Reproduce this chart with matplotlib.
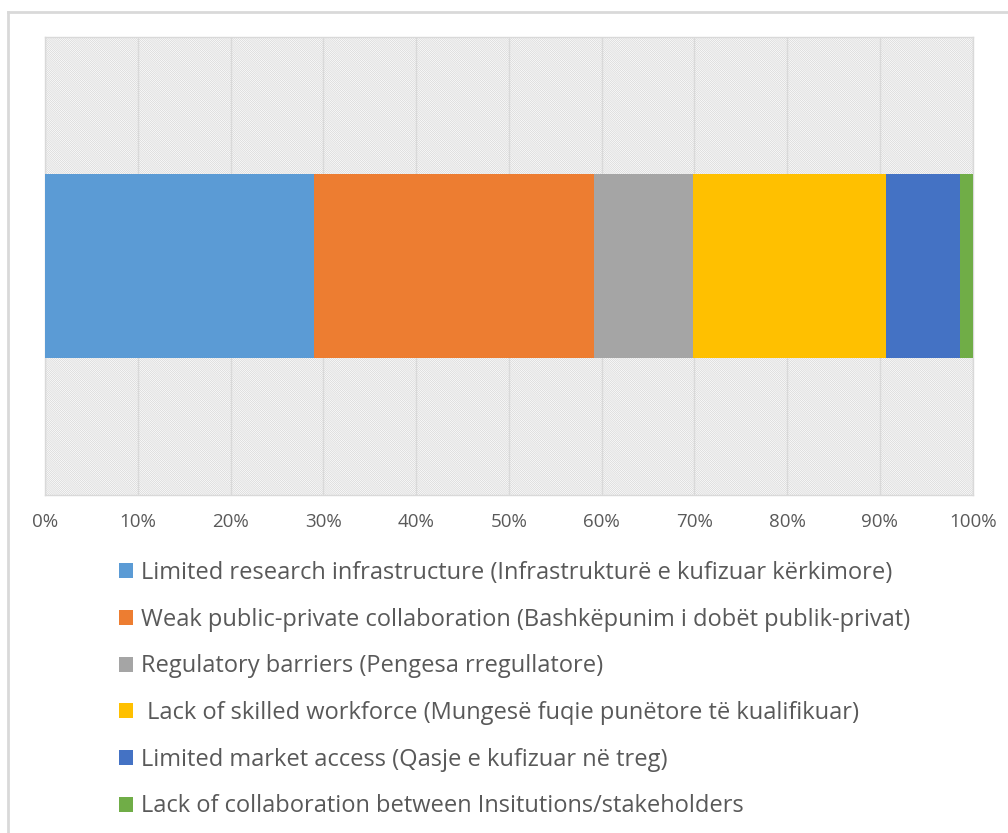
import matplotlib.pyplot as plt
from matplotlib.patches import Rectangle
from matplotlib.lines import Line2D
import numpy as np

# 各类障碍所占比例（%）
labels = [
    "Limited research infrastructure (Infrastrukturë e kufizuar kërkimore)",
    "Weak public-private collaboration (Bashkëpunim i dobët publik-privat)",
    "Regulatory barriers (Pengesa rregullatore)",
    " Lack of skilled workforce (Mungesë fuqie punëtore të kualifikuar)",
    "Limited market access (Qasje e kufizuar në treg)",
    "Lack of collaboration between Insitutions/stakeholders",
]
shares = [29.0, 30.2, 10.6, 20.9, 7.9, 1.4]
colors = ["#5B9BD5", "#ED7D31", "#A5A5A5", "#FFC000", "#4472C4", "#70AD47"]
xticks = [0, 10, 20, 30, 40, 50, 60, 70, 80, 90, 100]

plt.rcParams['font.family'] = ['Open Sans', 'DejaVu Sans']
plt.rcParams['hatch.linewidth'] = 0.5
plt.rcParams['hatch.color'] = '#D4D4D4'

fig = plt.figure(figsize=(10.08, 8.33), dpi=100)
ax = fig.add_axes([45 / 1008, 1 - 495 / 833, 927.7 / 1008, 458 / 833])

# 背景斜线填充
bg = Rectangle((0, 0), 1, 1, transform=ax.transAxes, facecolor='white',
               edgecolor='#D4D4D4', hatch='\\' * 16, linewidth=0, zorder=0)
ax.add_patch(bg)

total = sum(shares)
left = 0.0
handles = []
for lab, val, col in zip(labels, shares, colors):
    w = val / total * 100
    ax.barh(0, w, left=left, height=0.4, color=col, edgecolor='none', zorder=3)
    left += w
    handles.append(Rectangle((0, 0), 1, 1, facecolor=col, edgecolor='none'))

ax.set_xlim(0, 100)
ax.set_ylim(-0.5, 0.5)
ax.set_xticks(xticks)
ax.set_xticklabels([f"{t}%" for t in xticks])
ax.set_yticks([])
ax.tick_params(axis='x', length=0, pad=13, labelsize=13.5, labelcolor='#595959')
ax.grid(True, axis='x', color='#D9D9D9', linewidth=1, zorder=1)
ax.set_axisbelow(True)
for spine in ax.spines.values():
    spine.set_color('#D9D9D9')
    spine.set_linewidth(1)

fig.legend(handles, labels, loc='upper left', bbox_to_anchor=(119 / 1008, 1 - 561 / 833),
           frameon=False, fontsize=17, labelcolor='#595959',
           handlelength=0.6, handleheight=0.6, handletextpad=0.34,
           labelspacing=0.96, borderpad=0, borderaxespad=0)

# 外框（仅上、左两边可见）
fig.add_artist(Line2D([8 / 1008, 1], [1 - 12 / 833, 1 - 12 / 833], transform=fig.transFigure,
                      color='#D9D9D9', linewidth=2))
fig.add_artist(Line2D([8 / 1008, 8 / 1008], [0, 1 - 12 / 833], transform=fig.transFigure,
                      color='#D9D9D9', linewidth=2))

fig.savefig('out.png', dpi=100)
